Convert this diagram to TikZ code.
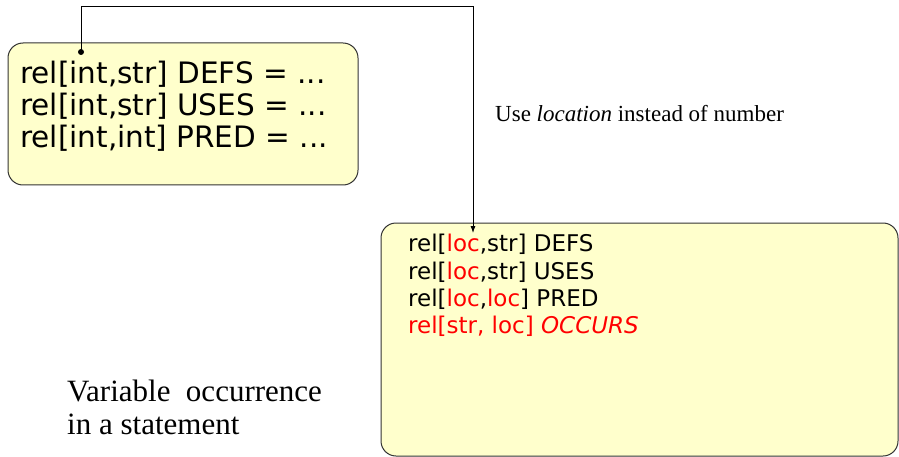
\documentclass[tikz,border=0pt]{standalone}
\usepackage{fontspec}
\setmainfont{Liberation Serif}
\newfontfamily\codefont{DejaVu Sans}
\usetikzlibrary{arrows.meta}
\definecolor{notefill}{HTML}{FFFFCC}
\definecolor{noteedge}{HTML}{333333}
\tikzset{
  x=1pt, y=-1pt,
  notebox/.style={draw=noteedge, fill=notefill, line width=1pt, rounded corners=15pt},
  bigcode/.style={anchor=base west, inner sep=0pt, font=\codefont\fontsize{29.5}{32}\selectfont},
  smallcode/.style={anchor=base west, inner sep=0pt, font=\codefont\fontsize{23}{27}\selectfont},
  plain/.style={anchor=base west, inner sep=0pt},
  link/.style={line width=0.8pt, draw=black},
}
\begin{document}
\begin{tikzpicture}
\useasboundingbox (0,0) rectangle (899,457);

% old relation box
\draw[notebox] (8,43) rectangle (358,185);
\node[bigcode] (oldA) at (20,84)  {rel[int,str] DEFS = ...};
\node[bigcode] (oldB) at (20,116) {rel[int,str] USES = ...};
\node[bigcode] (oldC) at (20,148) {rel[int,int] PRED = ...};

% new relation box
\draw[notebox] (381,223) rectangle (898,456);
\node[smallcode] (newA) at (408,251) {rel[\textcolor{red}{loc},str] DEFS};
\node[smallcode] (newB) at (408,279) {rel[\textcolor{red}{loc},str] USES};
\node[smallcode] (newC) at (408,306) {rel[\textcolor{red}{loc},\textcolor{red}{loc}] PRED};
\node[smallcode, text=red] (newD) at (408,333) {rel[str, loc] \textit{OCCURS}};

% notes
\node[plain, font=\fontsize{23}{26}\selectfont] (hint) at (495,122)
  {Use \textit{location} instead of number};
\node[plain, font=\fontsize{31}{33}\selectfont] (capA) at (67,401) {Variable\ \ occurrence};
\node[plain, font=\fontsize{31}{33}\selectfont] (capB) at (67,434) {in a statement};

% connector
\coordinate (src) at (81,52);
\coordinate (corner) at (473,6);
\coordinate (dst) at (473,233);
\fill (src) circle (3);
\draw[link, -{Latex[length=7pt,width=5pt]}] (src) |- (corner) -- (dst);
\end{tikzpicture}
\end{document}
